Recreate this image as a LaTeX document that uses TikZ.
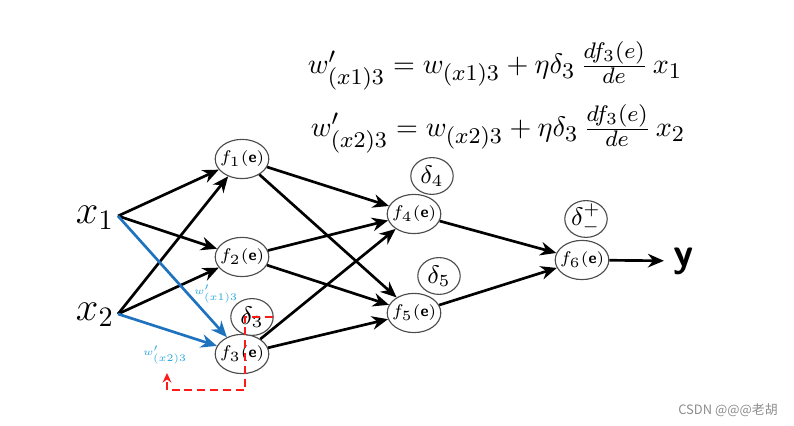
\documentclass[tikz,border=0pt]{standalone}
\usepackage{amsmath}
\usepackage{fontspec}
\newfontfamily\cjk{Noto Sans CJK SC}
\usetikzlibrary{arrows.meta, positioning, shapes}
\DeclareMathSizes{10}{10}{8}{6}
\definecolor{wblue}{HTML}{1F72BE}
\definecolor{lblue}{HTML}{29A8E0}
\definecolor{bred}{HTML}{FF1A1A}
\tikzset{
  neunode/.style={ellipse,draw=black!70,thin,minimum width=5.4mm,minimum height=4.9mm,inner sep=-0.4mm,font=\fontsize{5.6}{6}\selectfont,fill=white},
  delnode/.style={neunode,minimum width=5.3mm,minimum height=4.6mm,font=\small},
  fwdedge/.style={-{Stealth[length=2mm,width=1.7mm]},line width=0.95pt,black},
  updedge/.style={fwdedge,wblue},
  backedge/.style={-{Stealth[length=1.2mm,width=1.1mm]},bred,line width=0.7pt,dash pattern=on 1mm off 0.6mm},
  wlabel/.style={text=lblue,font=\tiny,inner sep=0pt,scale=0.72,transform shape},
}
\newcommand{\fe}[1]{$f_{#1}$(\textsf{\textbf{e}})}

\begin{document}
\begin{tikzpicture}[x=0.0125cm,y=-0.0125cm]
  \useasboundingbox (0,0) rectangle (794,426);
  % update rules
  \node (eqa) at (495,66) {$w'_{(x1)3} = w_{(x1)3} + \eta\delta_3\,\tfrac{df_3(e)}{de}\,x_1$};
  \node (eqb) at (498,129) {$w'_{(x2)3} = w_{(x2)3} + \eta\delta_3\,\tfrac{df_3(e)}{de}\,x_2$};
  % inputs
  \node (lx1) at (95,218) {\Large$x_1$};
  \node (lx2) at (95,315) {\Large$x_2$};
  \coordinate (x1) at (118,216);
  \coordinate (x2) at (118,314);
  % neurons
  \node[neunode] (f1) at (242,159) {\fe{1}};
  \node[neunode] (f2) at (242,257) {\fe{2}};
  \node[neunode] (f3) at (242,354) {\fe{3}};
  \node[neunode] (f4) at (414,214) {\fe{4}};
  \node[neunode] (f5) at (414,313) {\fe{5}};
  \node[neunode] (f6) at (582,260) {\fe{6}};
  \node[delnode] (d3) at (252,317) {$\delta_3$};
  \node[delnode] (d4) at (432,176) {$\delta_4$};
  \node[delnode] (d5) at (439,276) {$\delta_5$};
  \node[delnode] (d6) at (586,219) {$\delta^{+}_{-}$};
  \node[font=\Large\sffamily\bfseries] (y) at (684,261) {y};
  % forward
  \draw[fwdedge] (x1) -- (f1);
  \draw[fwdedge] (x1) -- (f2);
  \draw[fwdedge] (x2) -- (f1);
  \draw[fwdedge] (x2) -- (f2);
  \draw[updedge] (x1) -- (f3);
  \draw[updedge] (x2) -- (f3);
  \foreach \s in {f1,f2,f3}{
    \draw[fwdedge] (\s) -- (f4);
    \draw[fwdedge] (\s) -- (f5);
  }
  \draw[fwdedge] (f4) -- (f6);
  \draw[fwdedge] (f5) -- (f6);
  \draw[fwdedge] (f6) -- (y);
  \node[wlabel] (w1) at (216,294) {$w'_{(x1)3}$};
  \node[wlabel] (w2) at (165,355) {$w'_{(x2)3}$};
  % back propagation
  \coordinate (ra) at (273,317);
  \coordinate (rb) at (167,373);
  \draw[backedge] (ra) -- ++(-28,0) -- ++(0,73) -| (rb);
  \node[text=black!45,font=\cjk\fontsize{4.6}{5}\selectfont] (wm) at (728,410) {CSDN @@@老胡};
\end{tikzpicture}
\end{document}
